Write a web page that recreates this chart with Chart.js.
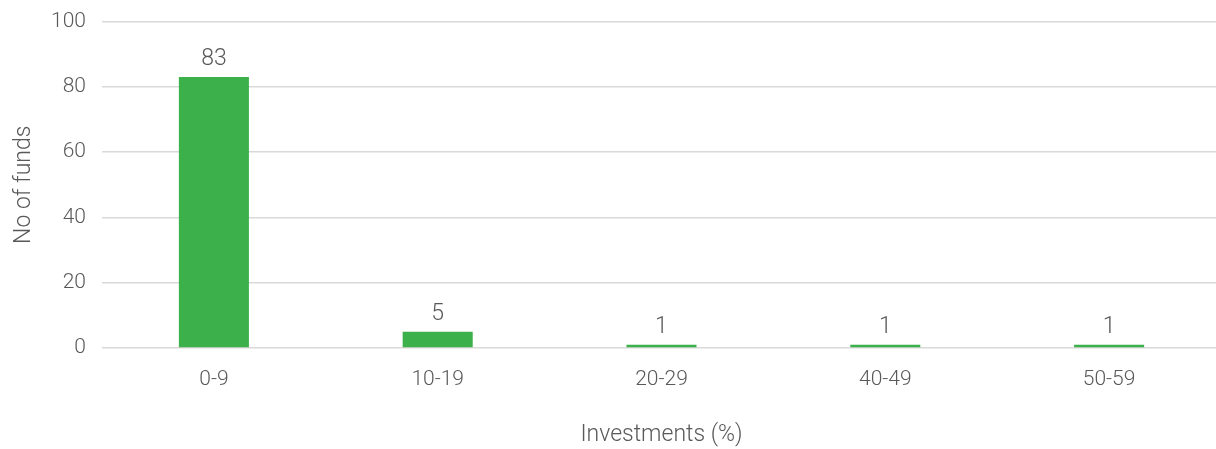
<!DOCTYPE html>
<html>
<head>
<meta charset="utf-8">
<script src="https://cdn.jsdelivr.net/npm/chart.js@4"></script>
<style>
  html, body { margin: 0; padding: 0; background: #fff; overflow: hidden; }
  #wrap { width: 1221px; height: 449px; }
</style>
</head>
<body>
<div id="wrap"><canvas id="chart"></canvas></div>
<script>
const categories = ['0-9', '10-19', '20-29', '40-49', '50-59'];
const funds = [83, 5, 1, 1, 1];
const yTicks = [0, 20, 40, 60, 80, 100];

const FONT = "'Roboto', sans-serif";
const TEXT = '#595959';

// values drawn above each bar
const barLabels = {
  id: 'barLabels',
  afterDatasetsDraw(chart) {
    const ctx = chart.ctx;
    const meta = chart.getDatasetMeta(0);
    ctx.save();
    ctx.font = '300 23px ' + FONT;
    ctx.fillStyle = TEXT;
    ctx.textAlign = 'center';
    ctx.textBaseline = 'bottom';
    meta.data.forEach((bar, i) => {
      ctx.fillText(String(funds[i]), bar.x, bar.y - 6);
    });
    ctx.restore();
  }
};

Chart.defaults.font.family = FONT;
Chart.defaults.font.weight = 300;
Chart.defaults.color = TEXT;

new Chart('chart', {
  type: 'bar',
  plugins: [barLabels],
  data: {
    labels: categories,
    datasets: [{
      label: 'No of funds',
      data: funds,
      backgroundColor: '#3cb04b',
      barPercentage: 0.313,
      categoryPercentage: 1.0,
    }],
  },
  options: {
    responsive: true,
    maintainAspectRatio: false,
    animation: false,
    layout: { padding: { top: 21.5, right: 0, left: 6, bottom: 0 } },
    plugins: {
      legend: { display: false },
      tooltip: { enabled: false },
    },
    scales: {
      x: {
        afterFit: (axis) => { axis.height = 101; },
        grid: { display: false, drawTicks: false },
        border: { display: false },
        ticks: { font: { size: 21 }, padding: 19 },
        title: { display: true, text: 'Investments (%)', font: { size: 23 }, padding: { top: 4, bottom: 0 } },
      },
      y: {
        min: 0,
        max: 100,
        afterBuildTicks: (axis) => { axis.ticks = yTicks.map((v) => ({ value: v })); },
        afterFit: (axis) => { axis.width = 96; axis.paddingTop = 0; axis.paddingBottom = 0; },
        grid: { color: '#d9d9d9', lineWidth: 1.6, drawTicks: false },
        border: { display: false },
        ticks: { font: { size: 21 }, padding: 16 },
        title: { display: true, text: 'No of funds', font: { size: 23 }, padding: { top: 4, bottom: 4 } },
      },
    },
  },
});
</script>
</body>
</html>
